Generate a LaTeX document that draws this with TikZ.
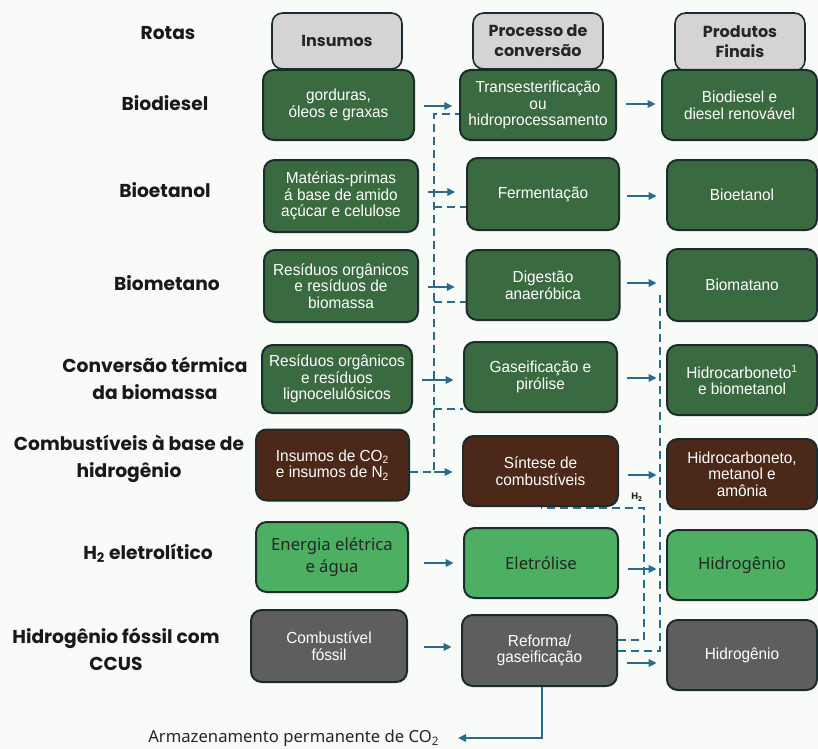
\documentclass[tikz,border=0pt]{standalone}
\usepackage{fontspec}
\setmainfont{Liberation Sans}
\newfontfamily\lblfont{Poppins}
\newfontfamily\boxfont[FakeStretch=0.96]{Liberation Sans}
\newfontfamily\aptfont{Noto Sans}
\usetikzlibrary{arrows.meta}
\definecolor{dg}{HTML}{3A6A3F}
\definecolor{br}{HTML}{4B2817}
\definecolor{lg}{HTML}{4CAF62}
\definecolor{gr}{HTML}{5E5F5C}
\definecolor{hg}{HTML}{D4D4D4}
\definecolor{bord}{HTML}{1B2B2E}
\definecolor{ac}{HTML}{2A6B8C}
\definecolor{bgc}{HTML}{F8FBF7}
\tikzset{
  sz/.style 2 args={minimum width=#1*0.75pt, minimum height=#2*0.75pt},
  bx/.style={draw=bord, line width=1.5pt, rounded corners=8pt, align=center, inner sep=0pt, text=white, font=\boxfont\fontsize{12}{12.5}\selectfont},
  lbx/.style={bx, fill=lg, text=black!85, font=\aptfont\fontsize{12.5}{17}\selectfont},
  hd/.style={draw=bord, fill=hg, line width=1.2pt, rounded corners=8pt, inner sep=0pt, align=center, text=black!85, font=\lblfont\bfseries\fontsize{12}{15}\selectfont},
  lbl/.style={align=center, text=black!90, font=\lblfont\bfseries\fontsize{14}{20}\selectfont},
  arr/.style={draw=ac, line width=1.5pt, -{Triangle[length=6pt,width=5.5pt]}},
  dsh/.style={draw=ac, line width=1.5pt, dash pattern=on 6pt off 3.75pt},
}
\begin{document}
\begin{tikzpicture}[x=0.75pt,y=-0.75pt]
\useasboundingbox (0,0) rectangle (818,749);
\fill[bgc] (0,0) rectangle (818,749);
% headers
\node[hd, sz={130}{56}] (h1) at (337,41) {Insumos};
\node[hd, sz={130}{56}] (h2) at (538,41) {Processo de\\conversão};
\node[hd, sz={130}{58}] (h3) at (740,42) {Produtos\\Finais};
% row labels
\node[lbl] (l0) at (168,33) {Rotas};
\node[lbl] (l1) at (165,103) {Biodiesel};
\node[lbl] (l2) at (165,190) {Bioetanol};
\node[lbl] (l3) at (167,283) {Biometano};
\node[lbl] (l4) at (155,378) {Conversão térmica\\da biomassa};
\node[lbl] (l5) at (129,459) {Combustíveis à base de\\hidrogênio};
\node[lbl] (l6) at (148,553) {H\textsubscript{2} eletrolítico};
\node[lbl] (l7) at (116,649) {Hidrogênio fóssil com\\CCUS};
% insumos
\node[bx, fill=dg, sz={151}{70}] (i1) at (338.5,105) {gorduras,\\óleos e graxas};
\node[bx, fill=dg, sz={154}{72}] (i2) at (341,196) {Matérias-primas\\á base de amido\\açúcar e celulose};
\node[bx, fill=dg, sz={154}{72}] (i3) at (341,286) {Resíduos orgânicos\\e resíduos de\\biomassa};
\node[bx, fill=dg, sz={150}{68}] (i4) at (337,379) {Resíduos orgânicos\\e resíduos\\lignocelulósicos};
\node[bx, fill=br, sz={153}{71}] (i5) at (332.5,465) {Insumos de CO\textsubscript{2}\\e insumos de N\textsubscript{2}};
\node[lbx, sz={152}{70}] (i6) at (332,557) {Energia elétrica\\e água};
\node[bx, fill=gr, sz={156}{72}] (i7) at (329,646) {Combustível\\fóssil};
% processos
\node[bx, fill=dg, sz={156}{70}] (p1) at (538,105) {Transesterificação\\ou\\hidroprocessamento};
\node[bx, fill=dg, sz={152}{72}] (p2) at (543,194) {Fermentação};
\node[bx, fill=dg, sz={153}{70}] (p3) at (543,285) {Digestão\\anaeróbica};
\node[bx, fill=dg, sz={153}{70}] (p4) at (540.5,377) {Gaseificação e\\pirólise};
\node[bx, fill=br, sz={155}{70}] (p5) at (540.5,471) {Síntese de\\combustíveis};
\node[lbx, sz={154}{70}] (p6) at (541,563) {Eletrólise};
\node[bx, fill=gr, sz={155}{71}] (p7) at (539.5,650.5) {Reforma/\\gaseificação};
% produtos
\node[bx, fill=dg, sz={155}{70}] (o1) at (739.5,105) {Biodiesel e\\diesel renovável};
\node[bx, fill=dg, sz={150}{70}] (o2) at (742,195) {Bioetanol};
\node[bx, fill=dg, sz={150}{72}] (o3) at (742,285) {Biomatano};
\node[bx, fill=dg, sz={150}{70}] (o4) at (742,380) {Hidrocarboneto\textsuperscript{1}\\e biometanol};
\node[bx, fill=br, sz={150}{70}] (o5) at (742,474) {Hidrocarboneto,\\metanol e\\amônia};
\node[lbx, sz={150}{70}] (o6) at (742,565) {Hidrogênio};
\node[bx, fill=gr, sz={150}{70}] (o7) at (742,655) {Hidrogênio};
% dashed CO2 trunk
\coordinate (tt) at (434,114);
\coordinate (tb) at (434,472);
\draw[dsh] (i5.east |- tb) -- (tb) -- (tt) -- (p1.west |- tt);
\draw[dsh] (434,207) -- (p2.west |- 0,207);
\draw[dsh] (434,302) -- (p3.west |- 0,302);
\draw[dsh] (434,409) -- (p4.west |- 0,409);
% arrows insumos -> processos
\draw[arr, shorten <=6.75pt, shorten >=5pt] (i1.east |- 0,106) -- (p1.west |- 0,106);
\draw[arr, shorten <=6.75pt, shorten >=8pt] (i2.east |- 0,192) -- (p2.west |- 0,192);
\draw[arr, shorten <=6.75pt, shorten >=8pt] (i3.east |- 0,287) -- (p3.west |- 0,287);
\draw[arr, shorten <=6.75pt, shorten >=7pt] (i4.east |- 0,380) -- (p4.west |- 0,380);
\draw[arr, shorten >=7pt] (tb) -- (p5.west |- tb);
\draw[arr, shorten <=11pt, shorten >=7pt] (i6.east |- 0,563) -- (p6.west |- 0,563);
\draw[arr, shorten <=12pt, shorten >=7pt] (i7.east |- 0,647) -- (p7.west |- 0,647);
% arrows processos -> produtos
\draw[arr, shorten <=7pt, shorten >=4pt] (p1.east |- 0,104) -- (o1.west |- 0,104);
\draw[arr, shorten <=5pt, shorten >=7pt] (p2.east |- 0,196) -- (o2.west |- 0,196);
\draw[arr, shorten <=5pt, shorten >=7pt] (p3.east |- 0,283) -- (o3.west |- 0,283);
\draw[arr, shorten <=7pt, shorten >=7pt] (p4.east |- 0,378) -- (o4.west |- 0,378);
\draw[arr, shorten <=7pt, shorten >=7pt] (p5.east |- 0,475) -- (o5.west |- 0,475);
\draw[arr, shorten <=7pt, shorten >=7pt] (p6.east |- 0,569) -- (o6.west |- 0,569);
\draw[arr, shorten <=7pt, shorten >=7pt] (p7.east |- 0,663) -- (o7.west |- 0,663);
% dashed H2 lines on the right
\coordinate (rt) at (660,292);
\coordinate (rb) at (660,651);
\draw[dsh] (p7.east |- rb) -- (rb) -- (rt);
\coordinate (hb) at (644,640);
\coordinate (ht) at (644,508);
\draw[dsh] (p7.east |- hb) -- (hb) -- (ht) -- (p5.south |- ht);
\node[font=\lblfont\bfseries\fontsize{7}{8}\selectfont, text=black!85] (h2lbl) at (637,497) {H\textsubscript{2}};
% CO2 storage
\node[anchor=west, font=\aptfont\fontsize{12.5}{14}\selectfont, text=black!85, inner sep=0pt] (st) at (148,738) {Armazenamento permanente de CO\textsubscript{2}};
\draw[arr, shorten >=14pt] (p7.south -| 542,0) |- (st.east);
\end{tikzpicture}
\end{document}
